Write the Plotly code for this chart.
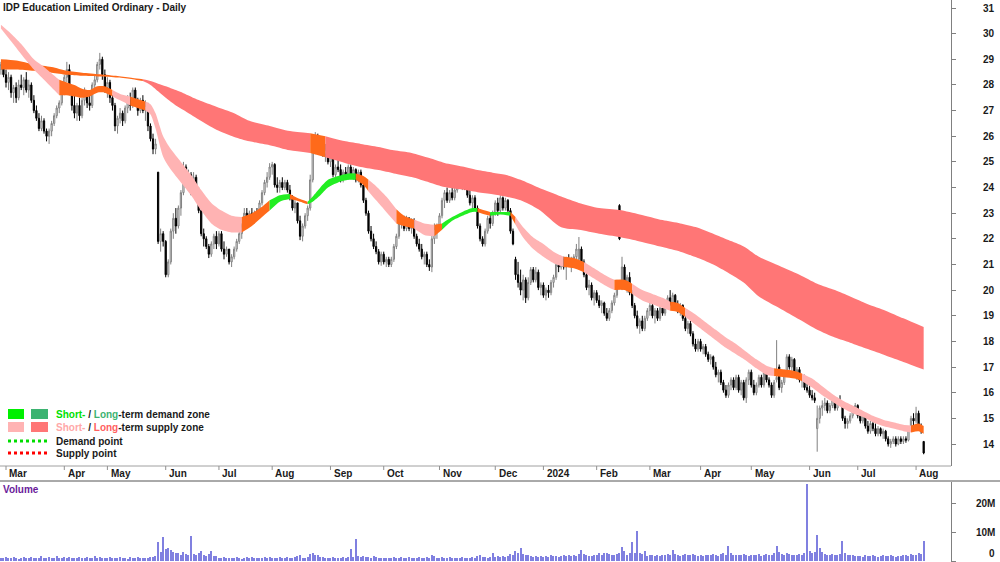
import plotly.graph_objects as go

# ---------------- DATA ----------------
# trading-day index (0 = 1 Mar 2023); bars run from -2 to 362
first_day, last_day = -2, 362

opens = [
    # Mar 23
    28.6,28.8,28.4,28.1,28.3,27.7,27.9,27.5,28.0,27.9,28.2,27.8,28.0,27.4,27.0,26.7,26.3,26.6,26.2,26.0,26.2,26.5,26.8,27.1,27.3,
    # Apr 23
    27.9,28.3,28.6,27.8,27.2,26.9,27.2,26.8,27.4,27.7,27.3,27.2,28.0,28.2,28.8,29.0,28.4,
    # May 23
    27.9,28.1,27.5,27.2,26.4,26.7,26.9,26.6,27.1,27.4,27.2,27.8,27.3,27.0,27.4,27.0,27.2,26.4,25.9,25.5,24.6,21.9,22.2,
    # Jun 23
    21.9,20.6,21.1,22.3,22.8,22.5,23.2,23.8,24.8,24.2,24.5,24.0,24.4,23.9,23.1,22.2,22.0,21.7,21.4,21.8,22.1,
    # Jul 23
    21.8,22.2,21.6,21.4,21.6,21.1,21.3,21.6,21.9,22.2,22.5,23.0,22.7,23.0,22.9,23.0,22.9,23.4,23.8,24.2,24.4,
    # Aug 23
    24.8,24.9,24.1,24.0,24.2,24.0,24.2,23.9,23.6,23.2,23.4,22.7,22.1,22.5,22.9,23.2,24.3,25.6,25.9,25.6,25.9,25.3,25.5,
    # Sep 23
    25.0,25.3,24.5,24.8,24.7,24.3,24.6,24.4,24.8,24.5,24.7,24.3,24.6,24.1,23.5,23.0,22.3,22.0,21.7,21.5,21.1,
    # Oct 23
    21.4,21.1,21.2,21.0,21.2,21.7,22.1,22.6,22.8,22.4,22.8,22.4,22.7,22.1,21.8,21.6,21.3,21.4,21.0,20.9,22.0,22.4,
    # Nov 23
    22.5,22.9,23.5,23.8,23.5,23.8,23.6,23.9,24.3,24.1,24.4,24.0,23.7,23.4,23.6,23.2,22.5,22.0,21.8,22.3,22.8,22.6,
    # Dec 23
    23.0,23.4,23.1,23.6,23.2,23.5,23.1,22.3,21.2,20.6,20.3,20.0,20.4,19.7,20.3,20.8,20.4,20.7,20.1,
    # Jan 24
    20.2,19.8,20.0,19.9,20.3,20.5,21.0,20.9,21.2,20.9,21.2,21.0,21.2,21.3,21.2,21.6,21.1,20.6,20.1,20.2,19.7,
    # Feb 24
    19.9,19.6,19.4,19.5,19.1,18.9,19.2,19.5,19.8,23.3,20.3,20.9,20.2,20.5,19.9,19.4,19.0,18.6,18.8,18.5,18.9,
    # Mar 24
    19.2,19.4,19.0,19.2,18.9,19.3,19.1,19.4,19.7,19.5,19.8,19.4,19.2,19.4,18.9,18.5,18.7,18.3,17.9,17.7,
    # Apr 24
    18.0,17.7,17.8,17.5,17.3,17.4,17.0,16.7,16.8,16.4,16.1,15.9,16.3,16.5,16.2,16.6,16.1,16.4,15.8,16.5,
    # May 24
    16.8,16.3,16.0,16.3,16.6,16.3,16.8,16.5,16.3,15.9,16.5,17.0,16.2,16.4,16.8,17.4,17.0,17.3,16.8,16.9,16.5,16.6,16.2,
    # Jun 24
    16.1,15.9,15.8,14.6,15.0,15.4,15.5,15.6,15.3,15.5,15.7,15.4,15.7,15.6,15.0,14.8,14.9,15.1,15.3,
    # Jul 24
    15.5,15.1,14.9,15.1,14.7,14.5,14.8,14.6,14.4,14.6,14.4,14.5,14.2,14.0,14.1,14.2,14.0,14.2,14.1,14.2,14.15,14.6,15.0,
    # Aug 24
    14.9,15.2,14.7,14.1,
]

highs = [
    28.9,28.95,28.6,28.5,28.4,28.0,28.1,28.2,28.4,28.3,28.5,28.2,28.1,27.6,27.2,26.9,26.8,26.7,26.3,26.3,26.6,26.9,27.2,27.4,28.0,
    28.4,28.9,28.8,28.0,27.6,27.3,27.5,27.5,27.9,27.8,27.6,28.1,28.4,28.9,29.25,29.1,28.6,
    28.3,28.2,27.6,27.3,26.8,27.1,27.0,27.2,27.6,27.7,27.9,27.9,27.5,27.5,27.6,27.4,27.3,26.5,26.1,25.9,24.6,22.4,22.3,
    21.95,21.2,22.4,23.0,23.2,23.3,23.9,25.0,24.9,24.7,24.6,24.6,24.5,24.0,23.2,22.4,22.1,21.8,21.9,22.2,22.3,
    22.3,22.3,21.9,21.7,21.6,21.4,21.7,22.0,22.3,22.6,23.2,23.2,23.1,23.2,23.1,23.2,23.5,23.9,24.3,24.6,24.95,
    25.0,24.95,24.4,24.3,24.4,24.3,24.3,24.1,23.7,23.5,23.4,22.9,22.6,23.0,23.3,24.5,25.9,26.16,26.1,26.0,26.0,25.7,25.6,
    25.4,25.4,24.9,25.1,24.9,24.7,24.8,24.9,24.9,24.8,24.75,24.7,24.7,24.2,23.6,23.1,22.5,22.2,21.9,21.6,21.5,
    21.5,21.3,21.3,21.3,21.8,22.2,22.7,22.9,22.9,22.9,22.85,22.8,22.8,22.2,22.0,21.8,21.5,21.5,21.2,22.3,22.6,22.6,
    23.0,23.6,23.9,24.0,23.9,24.0,24.0,24.4,24.55,24.5,24.5,24.2,23.9,23.7,23.7,23.3,22.6,22.1,22.4,22.9,23.0,23.1,
    23.5,23.6,23.7,23.65,23.6,23.55,23.2,22.4,21.3,21.1,20.8,20.6,20.5,20.5,20.9,20.9,20.9,20.8,20.3,
    20.3,20.1,20.2,20.4,20.6,21.2,21.2,21.3,21.3,21.3,21.4,21.3,21.4,21.8,22.07,21.7,21.2,20.7,20.4,20.3,20.0,
    20.0,19.8,19.6,19.55,19.3,19.3,19.6,19.9,20.4,23.35,21.3,21.0,20.6,20.7,20.0,19.5,19.2,18.9,19.0,19.0,19.3,
    19.5,19.5,19.3,19.3,19.4,19.5,19.5,19.8,20.0,19.9,19.85,19.6,19.5,19.45,19.0,18.8,18.8,18.4,18.1,18.1,
    18.1,17.9,17.9,17.6,17.5,17.45,17.2,16.9,16.9,16.5,16.3,16.4,16.6,16.6,16.7,16.7,16.5,16.5,16.6,16.9,
    16.9,16.5,16.4,16.7,16.7,16.9,16.85,16.6,16.4,16.5,18.05,17.1,16.5,16.9,17.5,17.5,17.4,17.35,17.0,17.0,16.7,16.7,16.4,
    16.3,16.1,16.0,15.5,15.5,15.7,15.8,15.7,15.6,15.8,15.75,15.8,15.9,15.65,15.1,15.0,15.2,15.4,15.6,
    15.55,15.2,15.2,15.15,14.9,14.9,14.9,14.8,14.7,14.65,14.6,14.55,14.3,14.2,14.3,14.3,14.3,14.3,14.3,14.3,14.7,15.1,15.2,
    15.45,15.3,14.8,14.1,
]

lows = [
    28.4,28.3,27.9,27.8,27.5,27.3,27.3,27.4,27.8,27.6,27.7,27.5,27.3,26.9,26.6,26.2,26.2,26.1,25.8,25.7,26.0,26.4,26.7,26.9,27.2,
    27.6,28.1,27.6,27.0,26.7,26.6,26.6,26.7,27.2,27.1,27.0,27.1,27.8,28.1,28.6,28.2,27.7,
    27.5,27.3,27.0,26.2,26.1,26.5,26.4,26.5,26.9,27.0,27.1,27.2,26.8,26.9,26.9,26.6,26.2,25.8,25.3,25.3,21.8,21.5,21.7,
    20.5,20.5,21.0,22.0,22.2,22.4,22.9,23.7,24.0,23.9,23.7,23.8,23.8,23.0,22.1,21.7,21.6,21.25,21.3,21.6,21.6,
    21.7,21.5,21.2,21.3,21.0,20.9,21.2,21.5,21.8,22.0,22.4,22.5,22.6,22.7,22.6,22.8,22.8,23.3,23.7,24.0,24.3,
    24.5,24.0,23.8,23.8,23.9,23.9,23.8,23.5,23.1,23.0,22.6,21.95,21.9,22.4,22.7,23.1,24.2,25.3,25.4,25.4,25.2,25.0,24.9,
    24.8,24.4,24.3,24.6,24.2,24.2,24.3,24.3,24.4,24.3,24.2,24.2,24.0,23.4,22.9,22.2,21.9,21.6,21.4,21.0,20.95,
    21.0,20.9,20.9,20.9,21.1,21.6,22.0,22.4,22.3,22.3,22.3,22.2,22.0,21.7,21.5,21.2,21.0,20.9,20.75,20.7,21.8,22.0,
    22.3,22.8,23.2,23.4,23.4,23.5,23.5,23.8,24.0,23.9,23.9,23.6,23.3,23.2,23.1,22.4,21.9,21.7,21.7,22.2,22.4,22.5,
    22.9,22.9,23.0,23.1,23.1,23.0,22.2,21.75,20.4,20.1,19.8,19.6,19.5,19.6,20.2,20.3,20.3,20.0,19.8,
    19.7,19.6,19.7,19.8,20.1,20.4,20.7,20.8,20.8,20.4,20.9,20.7,20.9,21.1,21.1,21.0,20.5,20.0,19.8,19.6,19.4,
    19.5,19.3,19.1,19.0,18.8,18.8,19.1,19.4,19.7,21.95,20.0,20.1,19.9,19.8,19.3,18.9,18.5,18.3,18.4,18.4,18.8,
    19.0,18.9,18.7,18.8,18.8,19.0,19.0,19.3,19.4,19.3,19.3,19.1,19.0,18.8,18.4,18.3,18.2,17.8,17.6,17.6,
    17.6,17.5,17.4,17.2,17.1,16.9,16.6,16.4,16.3,16.0,15.8,15.8,16.1,16.1,16.1,16.0,15.9,15.7,15.6,16.3,
    16.2,15.9,15.9,16.2,16.2,16.2,16.4,16.2,15.8,15.8,16.4,16.1,16.0,16.3,16.7,16.9,16.8,16.7,16.5,16.4,16.2,16.1,16.0,
    15.8,15.7,15.6,13.7,14.8,15.1,15.3,15.2,15.2,15.4,15.3,15.3,15.5,14.9,14.6,14.6,14.8,15.0,15.2,
    15.0,14.8,14.8,14.6,14.4,14.4,14.5,14.3,14.3,14.3,14.2,14.1,13.9,13.85,14.0,13.9,13.95,14.0,14.0,14.05,14.1,14.5,14.7,
    14.8,14.6,14.4,13.6,
]

closes = [
    28.8,28.4,28.1,28.3,27.7,27.9,27.5,28.0,27.9,28.2,27.8,28.0,27.4,27.0,26.7,26.3,26.6,26.2,26.0,26.2,26.5,26.8,27.1,27.3,27.9,
    28.3,28.6,27.8,27.2,26.9,27.2,26.8,27.4,27.7,27.3,27.2,28.0,28.2,28.8,29.0,28.4,27.9,
    28.1,27.5,27.2,26.4,26.7,26.9,26.6,27.1,27.4,27.2,27.8,27.3,27.0,27.4,27.0,27.2,26.4,25.9,25.5,25.7,21.9,22.2,21.9,
    20.6,21.1,22.3,22.8,22.5,23.2,23.8,24.8,24.2,24.5,24.0,24.4,23.9,23.1,22.2,22.0,21.7,21.4,21.8,22.1,21.8,
    22.2,21.6,21.4,21.6,21.1,21.3,21.6,21.9,22.2,22.5,23.0,22.7,23.0,22.9,23.0,22.9,23.4,23.8,24.2,24.4,24.8,
    24.9,24.1,24.0,24.2,24.0,24.2,23.9,23.6,23.2,23.4,22.7,22.1,22.5,22.9,23.2,24.3,25.6,25.9,25.6,25.9,25.3,25.5,25.0,
    25.3,24.5,24.8,24.7,24.3,24.6,24.4,24.8,24.5,24.7,24.3,24.6,24.1,23.5,23.0,22.3,22.0,21.7,21.5,21.1,21.4,
    21.1,21.2,21.0,21.2,21.7,22.1,22.6,22.8,22.4,22.8,22.4,22.7,22.1,21.8,21.6,21.3,21.4,21.0,20.9,22.0,22.4,22.5,
    22.9,23.5,23.8,23.5,23.8,23.6,23.9,24.3,24.1,24.4,24.0,23.7,23.4,23.6,23.2,22.5,22.0,21.8,22.3,22.8,22.6,23.0,
    23.4,23.1,23.6,23.2,23.5,23.1,22.3,21.8,20.6,20.3,20.0,20.4,19.7,20.3,20.8,20.4,20.7,20.1,20.2,
    19.8,20.0,19.9,20.3,20.5,21.0,20.9,21.2,20.9,21.2,21.0,21.2,21.3,21.6,21.6,21.1,20.6,20.1,20.2,19.7,19.9,
    19.6,19.4,19.5,19.1,18.9,19.2,19.5,19.8,20.3,22.0,20.9,20.2,20.5,19.9,19.4,19.0,18.6,18.8,18.5,18.9,19.2,
    19.4,19.0,19.2,18.9,19.3,19.1,19.4,19.7,19.5,19.8,19.4,19.2,19.4,18.9,18.5,18.7,18.3,17.9,17.7,18.0,
    17.7,17.8,17.5,17.3,17.4,17.0,16.7,16.8,16.4,16.1,15.9,16.3,16.5,16.2,16.6,16.1,16.4,15.8,16.5,16.8,
    16.3,16.0,16.3,16.6,16.3,16.8,16.5,16.3,15.9,16.4,16.6,16.2,16.4,16.8,17.4,17.0,17.3,16.8,16.9,16.5,16.6,16.2,16.1,
    15.9,15.8,15.7,15.0,15.4,15.5,15.6,15.3,15.5,15.7,15.4,15.7,15.6,15.0,14.8,14.9,15.1,15.3,15.5,
    15.1,14.9,15.1,14.7,14.5,14.8,14.6,14.4,14.6,14.4,14.5,14.2,14.0,14.1,14.2,14.0,14.2,14.1,14.2,14.15,14.6,15.0,14.9,
    15.2,14.7,14.5,13.65,
]

# volume in millions
volumes = [
    1.2,1.0,1.3,0.9,1.1,1.4,1.0,0.8,1.2,1.3,1.0,1.1,1.5,0.9,1.2,1.0,1.6,1.1,0.9,1.3,1.2,1.0,1.8,1.1,0.9,
    1.3,1.0,1.4,1.1,0.9,1.2,1.5,1.0,1.1,1.3,0.9,1.2,1.7,1.0,1.4,1.1,1.2,
    1.0,1.3,1.1,0.9,1.2,1.4,1.0,1.1,0.8,1.3,1.2,1.0,1.5,1.1,0.9,1.2,1.0,1.3,1.4,1.8,6.7,3.0,8.4,
    4.2,4.6,3.8,3.0,2.6,2.9,2.2,3.1,2.4,2.0,8.5,2.3,1.9,2.8,3.5,2.2,1.8,2.5,3.3,1.7,1.6,
    1.2,1.0,1.3,1.1,0.9,1.2,1.0,1.4,1.1,0.8,1.2,1.3,1.0,1.5,1.1,0.9,1.2,1.0,1.3,1.1,1.4,
    1.2,1.0,1.1,1.3,0.9,1.2,1.4,1.1,1.0,1.3,1.6,1.9,1.2,1.1,1.4,2.4,2.8,1.9,2.1,1.5,1.3,1.2,1.0,
    1.1,1.3,1.0,1.2,0.9,1.4,1.1,1.3,4.2,1.5,7.6,1.6,1.3,1.8,1.5,1.4,1.2,1.6,1.3,1.1,1.2,
    1.0,1.2,1.1,0.9,1.3,1.0,1.2,1.4,1.1,1.0,1.3,0.9,1.2,1.1,1.4,1.0,1.2,1.3,1.1,2.0,1.6,1.2,
    1.1,1.3,1.0,1.2,1.4,1.1,0.9,1.2,1.0,1.3,1.1,1.2,1.0,1.4,1.2,1.6,1.9,1.5,1.3,1.2,1.4,2.7,
    1.5,1.8,1.3,1.6,1.4,1.7,2.4,2.2,3.5,2.6,4.5,2.3,1.9,2.0,1.7,1.5,1.8,1.4,1.6,
    1.5,1.7,1.4,1.9,1.6,1.8,1.5,1.7,2.0,1.6,1.9,1.8,2.1,1.7,2.3,3.9,2.4,2.0,1.8,1.6,1.9,
    2.2,2.6,2.0,2.8,2.6,2.3,1.9,2.1,2.4,2.8,5.0,3.4,2.2,2.7,6.5,2.9,10.4,2.6,2.3,3.5,1.8,
    1.9,2.1,1.7,2.0,1.8,2.2,1.9,2.4,2.1,3.9,2.3,2.0,1.8,2.2,2.5,2.0,1.9,2.3,2.1,1.8,
    2.0,1.8,2.2,1.9,2.1,2.4,2.0,1.8,2.3,2.6,2.2,5.3,2.8,2.1,1.9,2.2,2.0,2.4,2.1,1.8,
    1.9,2.2,2.0,2.3,1.8,2.1,2.4,2.0,2.2,2.6,5.3,3.0,2.4,2.1,2.7,2.3,2.0,1.9,2.2,2.5,2.1,2.8,26.5,
    3.5,2.6,3.0,8.8,4.6,3.2,2.5,2.2,2.0,2.3,1.9,2.1,2.4,6.8,2.7,2.2,1.9,2.0,1.8,
    1.6,1.8,1.5,1.9,1.7,1.6,2.0,1.8,1.5,1.7,1.9,1.6,1.8,2.0,1.7,1.5,1.8,1.6,1.9,2.1,1.8,2.4,2.2,
    1.9,2.6,2.3,7.0,
]

# short-term zone band (sampled), zone state for the stretch starting at each sample
short_idx = [-2,2,6,11,15,18,21,24,27,30,33,36,39,42,45,49,52,55,57,59,62,65,69,73,77,81,85,89,93,97,101,104,108,112,116,119,121,124,127,131,135,138,141,143,146,150,154,157,161,165,169,172,176,180,184,186,189,191,195,199,201,204,208,212,216,220,224,228,232,236,240,244,247,251,255,259,262,265,268,272,276,280,284,288,292,296,300,303,307,311,314,318,322,326,330,334,338,342,346,350,354,357,360,362]
short_up = [30.35,30.0,29.6,29.0,28.7,28.45,28.2,28.1,28.0,27.85,27.8,27.95,27.95,27.8,27.65,27.55,27.45,27.35,27.25,26.9,26.0,25.5,25.0,24.5,23.9,23.4,23.1,22.9,22.85,23.0,23.25,23.5,23.7,23.75,23.55,23.45,23.65,24.0,24.3,24.45,24.55,24.55,24.45,24.3,24.05,23.65,23.15,22.9,22.75,22.6,22.55,22.6,22.85,23.05,23.2,23.2,23.1,23.05,23.05,23.05,22.85,22.45,22.05,21.8,21.5,21.3,21.25,21.1,20.85,20.6,20.4,20.4,20.25,20.0,19.85,19.7,19.55,19.5,19.3,19.05,18.75,18.45,18.15,17.9,17.6,17.3,17.05,16.95,16.9,16.85,16.75,16.55,16.25,15.95,15.7,15.5,15.3,15.1,14.95,14.85,14.75,14.72,14.8,14.7]
short_lo = [30.2,29.7,29.2,28.6,28.2,27.9,27.6,27.6,27.55,27.5,27.55,27.7,27.7,27.55,27.4,27.2,27.1,27.0,26.85,26.3,25.2,24.7,24.2,23.7,23.1,22.6,22.35,22.25,22.25,22.5,22.85,23.1,23.45,23.55,23.45,23.35,23.45,23.7,24.0,24.2,24.3,24.3,24.1,23.85,23.5,23.05,22.6,22.5,22.4,22.15,22.1,22.35,22.7,22.9,23.05,23.05,22.95,22.9,22.95,22.9,22.55,22.05,21.6,21.3,21.05,20.9,20.85,20.7,20.45,20.2,20.0,20.0,19.85,19.6,19.45,19.3,19.2,19.15,18.95,18.65,18.35,18.05,17.75,17.5,17.25,16.95,16.7,16.65,16.6,16.55,16.45,16.2,15.9,15.65,15.4,15.2,15.05,14.85,14.7,14.6,14.5,14.45,14.5,14.4]
short_zone = ['S','S','S','S','S','S','N','N','N','N','N','N','N','S','S','N','N','S','S','S','S','S','S','S','S','S','S','S','N','N','N','D','D','N','N','D','D','D','D','D','D','N','N','S','S','S','N','N','S','S','N','D','D','D','D','N','N','D','D','N','S','S','S','S','S','N','N','S','S','S','N','N','S','S','S','S','N','N','S','S','S','S','S','S','S','S','S','N','N','N','S','S','S','S','S','S','S','S','S','S','S','N','N','N']

# long-term zone band (sampled)
long_idx = [-2,4,11,18,24,30,37,44,50,54,57,60,63,67,70,76,83,90,96,104,112,120,126,134,140,147,153,160,167,173,180,186,192,197,203,210,219,226,234,242,250,259,266,272,279,285,291,297,305,313,320,327,333,340,347,354,362]
long_up = [29.0,28.95,28.8,28.7,28.55,28.48,28.42,28.35,28.27,28.22,28.15,28.05,27.95,27.8,27.68,27.41,27.15,26.9,26.6,26.4,26.2,26.12,26.0,25.8,25.7,25.58,25.45,25.35,25.15,24.96,24.82,24.68,24.58,24.5,24.3,24.0,23.65,23.4,23.2,23.12,22.95,22.73,22.6,22.46,22.2,21.95,21.7,21.3,20.95,20.6,20.25,20.0,19.75,19.45,19.2,18.9,18.56]
long_lo = [28.6,28.6,28.55,28.48,28.4,28.36,28.33,28.29,28.22,28.15,28.0,27.75,27.5,27.2,27.02,26.65,26.25,25.97,25.8,25.65,25.45,25.35,25.18,24.95,24.8,24.68,24.55,24.41,24.2,24.02,23.92,23.82,23.74,23.65,23.5,23.15,22.45,22.35,22.2,22.07,21.9,21.68,21.5,21.29,21.0,20.67,20.3,19.75,19.3,18.85,18.45,18.15,17.95,17.7,17.45,17.2,16.9]
long_zone = ['N','N','N','N','N','N','N','N','N','S','S','S','S','S','S','S','S','S','S','S','S','N','S','S','S','S','S','S','S','S','S','S','S','S','S','S','S','S','S','S','S','S','S','S','S','S','S','S','S','S','S','S','S','S','S','S','S']

# month tick positions (trading-day index) and labels
tick_idx = [0,23,40,63,84,105,128,149,171,193,212,233,254,274,294,317,336,359]
tick_text = ['Mar','Apr','May','Jun','Jul','Aug','Sep','Oct','Nov','Dec','2024','Feb','Mar','Apr','May','Jun','Jul','Aug']

price_ticks = list(range(14, 32))
vol_ticks = [0, 10, 20]
vol_tick_text = ['0', '10M', '20M']

# ---------------- STYLE ----------------
W, H = 1000, 562
PR = 951  # plot right edge in px
FONT = 'Liberation Sans, Arial, sans-serif'
FS = 10
ZONE_COL_SHORT = {'S': '#FFB3B3', 'N': '#FF6A1A', 'D': '#22EE22'}
ZONE_COL_LONG = {'S': '#FF7676', 'N': '#FF6A1A', 'D': '#3CB371'}


def pxx(p):
    return p / PR


def pyy(p):
    return 1 - p / H


xs = list(range(first_day, last_day + 1))

fig = go.Figure()


def add_band(idx, up, lo, zone, cmap):
    n = len(idx)
    i = 0
    while i < n - 1:
        z = zone[i]
        j = i
        while j < n - 1 and zone[j] == z:
            j += 1
        sx = idx[i:j + 1]
        fig.add_trace(go.Scatter(x=sx, y=up[i:j + 1], mode='lines',
                                 line=dict(width=0, shape='spline', smoothing=0.7),
                                 hoverinfo='skip', showlegend=False, yaxis='y'))
        fig.add_trace(go.Scatter(x=sx, y=lo[i:j + 1], mode='lines',
                                 line=dict(width=0, shape='spline', smoothing=0.7),
                                 fill='tonexty', fillcolor=cmap[z],
                                 hoverinfo='skip', showlegend=False, yaxis='y'))
        i = j


add_band(long_idx, long_up, long_lo, long_zone, ZONE_COL_LONG)
add_band(short_idx, short_up, short_lo, short_zone, ZONE_COL_SHORT)

fig.add_trace(go.Candlestick(
    x=xs, open=opens, high=highs, low=lows, close=closes,
    increasing=dict(line=dict(color='#808080', width=1), fillcolor='#FFFFFF'),
    decreasing=dict(line=dict(color='#000000', width=1), fillcolor='#000000'),
    whiskerwidth=0, showlegend=False, hoverinfo='skip', yaxis='y'))

fig.add_trace(go.Bar(x=xs, y=volumes, width=0.45,
                     marker=dict(color='#8080E0', line=dict(width=0)),
                     showlegend=False, hoverinfo='skip', yaxis='y2'))

shapes = []
annotations = []

# separators of the date strip
shapes.append(dict(type='line', xref='paper', yref='paper', x0=0, x1=1, y0=pyy(466), y1=pyy(466),
                   line=dict(color='#A0A0A0', width=1)))
shapes.append(dict(type='line', xref='paper', yref='paper', x0=0, x1=pxx(1000), y0=pyy(481), y1=pyy(481),
                   line=dict(color='#555555', width=1)))

for ti, tt in zip(tick_idx, tick_text):
    shapes.append(dict(type='line', xref='x', yref='paper', x0=ti, x1=ti, y0=pyy(466), y1=pyy(470),
                       line=dict(color='#909090', width=1)))
    annotations.append(dict(x=ti + 0.5, y=pyy(473.5), xref='x', yref='paper', xanchor='left', yanchor='middle',
                            text='<b>%s</b>' % tt, showarrow=False,
                            font=dict(family=FONT, size=FS, color='#1a1a1a')))

for v in price_ticks:
    annotations.append(dict(x=pxx(997), y=v, xref='paper', yref='y', xanchor='right', yanchor='middle',
                            text='<b>%d</b>' % v, showarrow=False,
                            font=dict(family=FONT, size=FS, color='#1a1a1a')))
for v, t in zip(vol_ticks, vol_tick_text):
    annotations.append(dict(x=pxx(997), y=v, xref='paper', yref='y2', xanchor='right',
                            yanchor='bottom' if v == 0 else 'middle',
                            text='<b>%s</b>' % t, showarrow=False,
                            font=dict(family=FONT, size=FS, color='#1a1a1a')))

annotations.append(dict(x=pxx(1), y=pyy(7), xref='paper', yref='paper', xanchor='left', yanchor='middle',
                        text='<b>IDP Education Limited Ordinary - Daily</b>', showarrow=False,
                        font=dict(family=FONT, size=FS, color='#1a1a1a')))
annotations.append(dict(x=pxx(1), y=pyy(489), xref='paper', yref='paper', xanchor='left', yanchor='middle',
                        text='<b>Volume</b>', showarrow=False,
                        font=dict(family=FONT, size=FS, color='#6A1B9A')))

# legend (drawn)
sw = [(409, 419, '#00F000', '#3CB371'), (422, 432, '#FFB3B3', '#FF7676')]
for y0, y1, c1, c2 in sw:
    shapes.append(dict(type='rect', xref='paper', yref='paper', x0=pxx(8), x1=pxx(24), y0=pyy(y1), y1=pyy(y0),
                       fillcolor=c1, line=dict(width=0)))
    shapes.append(dict(type='rect', xref='paper', yref='paper', x0=pxx(31), x1=pxx(48), y0=pyy(y1), y1=pyy(y0),
                       fillcolor=c2, line=dict(width=0)))
shapes.append(dict(type='line', xref='paper', yref='paper', x0=pxx(8), x1=pxx(48), y0=pyy(441), y1=pyy(441),
                   line=dict(color='#00DD00', width=3, dash='dot')))
shapes.append(dict(type='line', xref='paper', yref='paper', x0=pxx(8), x1=pxx(48), y0=pyy(453), y1=pyy(453),
                   line=dict(color='#FF0000', width=3, dash='dot')))

legend_rows = [
    (414, '<b><span style="color:#00E000">Short-</span> / <span style="color:#3CB371">Long</span>-term demand zone</b>'),
    (427, '<b><span style="color:#FFA8A8">Short-</span> / <span style="color:#FF6060">Long</span>-term supply zone</b>'),
    (441, '<b>Demand point</b>'),
    (453, '<b>Supply point</b>'),
]
for yy, txt in legend_rows:
    annotations.append(dict(x=pxx(54), y=pyy(yy), xref='paper', yref='paper', xanchor='left', yanchor='middle',
                            text=txt, showarrow=False, font=dict(family=FONT, size=FS, color='#1a1a1a')))

axis_common = dict(side='right', anchor='x', showline=True, linecolor='#808080', linewidth=1,
                   ticks='outside', ticklen=4, tickcolor='#808080', showticklabels=False,
                   showgrid=False, zeroline=False, fixedrange=True)

fig.update_layout(
    width=W, height=H,
    margin=dict(l=0, r=W - PR, t=0, b=0),
    paper_bgcolor='white', plot_bgcolor='white',
    showlegend=False,
    xaxis=dict(range=[-6 / 2.535, (PR - 6) / 2.535], showgrid=False, showticklabels=False, zeroline=False,
               showline=False, ticks='', rangeslider=dict(visible=False), fixedrange=True),
    yaxis=dict(domain=[1 - 466 / H, 1], range=[14 - 22 / 25.647, 14 + 444 / 25.647],
               tickvals=price_ticks, **axis_common),
    yaxis2=dict(domain=[0, 80 / H], range=[-1 / 2.9, 79 / 2.9], tickvals=vol_ticks, **axis_common),
    shapes=shapes, annotations=annotations,
    bargap=0,
)

fig.write_html('out.html')
